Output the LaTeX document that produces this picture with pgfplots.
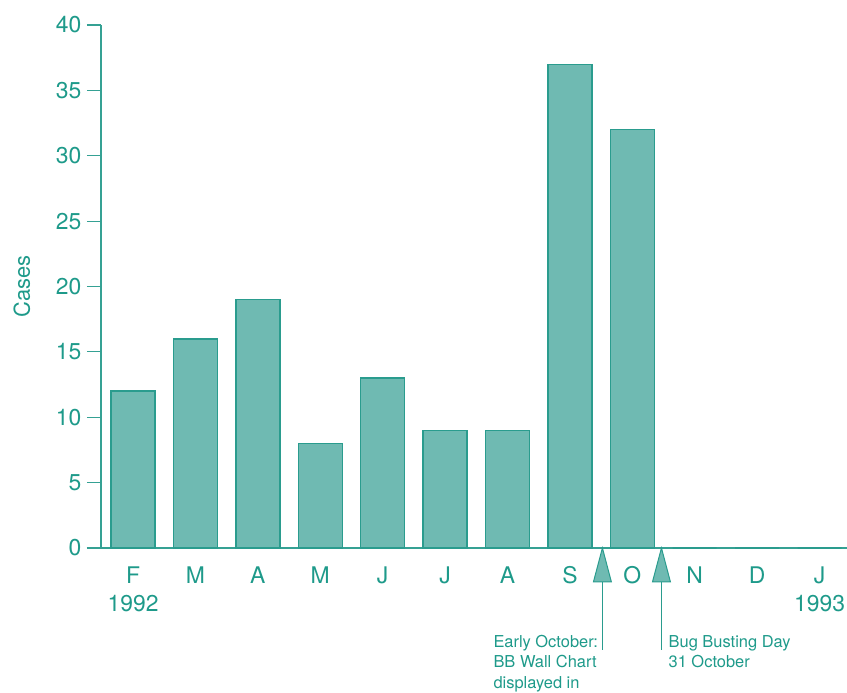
\documentclass[border=0pt]{standalone}
\usepackage{pgfplots}
\pgfplotsset{compat=1.18}
\usepackage{fontspec}
\setmainfont{TeX Gyre Heros}
\definecolor{txt}{HTML}{1E9A8A}
\definecolor{barfill}{HTML}{6FBAB2}
\definecolor{bardraw}{HTML}{2A9C8E}
\definecolor{axcol}{HTML}{35A194}
\begin{document}
\begin{tikzpicture}
\begin{axis}[
  scale only axis,
  width=746bp, height=523bp,
  xmin=-0.513, xmax=11.44,
  ymin=0, ymax=40,
  clip=false,
  axis x line=bottom, axis y line=left,
  axis line style={draw=axcol, line width=1.2bp, -},
  x axis line style={shorten <=-14bp},
  ytick={0,5,...,40},
  xtick={0,...,11},
  xticklabels={{F\\1992},M,A,M,J,J,A,S,O,N,D,{J\\1993}},
  tick align=outside,
  ytick style={draw=axcol, line width=1.2bp},
  xtick style={draw=none},
  major tick length=14bp,
  tick label style={text=txt, font=\fontsize{23}{28}\selectfont},
  xticklabel style={align=center, anchor=north, yshift=-1bp},
  yticklabel style={anchor=east, xshift=-2bp},
  /pgf/number format/assume math mode=true,
  ylabel={Cases},
  every axis y label/.style={at={(axis description cs:-0.106,0.5)}, rotate=90, anchor=center, text=txt, font=\fontsize{22}{26}\selectfont},
  ybar, bar width=44bp,
]
\addplot[fill=barfill, draw=bardraw, line width=1.4bp] coordinates {
 (0,12) (1,16) (2,19) (3,8) (4,13) (5,9) (6,9) (7,37) (8,32) (9,0) (10,0) (11,0)};
\filldraw[fill=barfill, draw=bardraw, line width=1bp, line join=miter] (axis cs:7.521,0) -- (axis cs:7.377,-2.60) -- (axis cs:7.665,-2.60) -- cycle;
\draw[bardraw, line width=1bp] (axis cs:7.521,-2.60) -- (axis cs:7.521,-7.80);
\filldraw[fill=barfill, draw=bardraw, line width=1bp, line join=miter] (axis cs:8.467,0) -- (axis cs:8.323,-2.60) -- (axis cs:8.611,-2.60) -- cycle;
\draw[bardraw, line width=1bp] (axis cs:8.467,-2.60) -- (axis cs:8.467,-7.80);
\node[anchor=north west, inner sep=0pt, align=left, text=txt, font=\fontsize{16.5}{20.5}\selectfont] at (axis cs:5.773,-6.65) {Early October:\\BB Wall Chart\\displayed in};
\node[anchor=north west, inner sep=0pt, align=left, text=txt, font=\fontsize{16.5}{20.5}\selectfont] at (axis cs:8.579,-6.65) {Bug Busting Day\\31 October};
\coordinate (O) at (rel axis cs:0,0);
\coordinate (E) at (rel axis cs:1,1);
\end{axis}
\pgfresetboundingbox
\path ([shift={(-101bp,-145bp)}]O) rectangle ([shift={(0bp,25bp)}]E);
\end{tikzpicture}
\end{document}
